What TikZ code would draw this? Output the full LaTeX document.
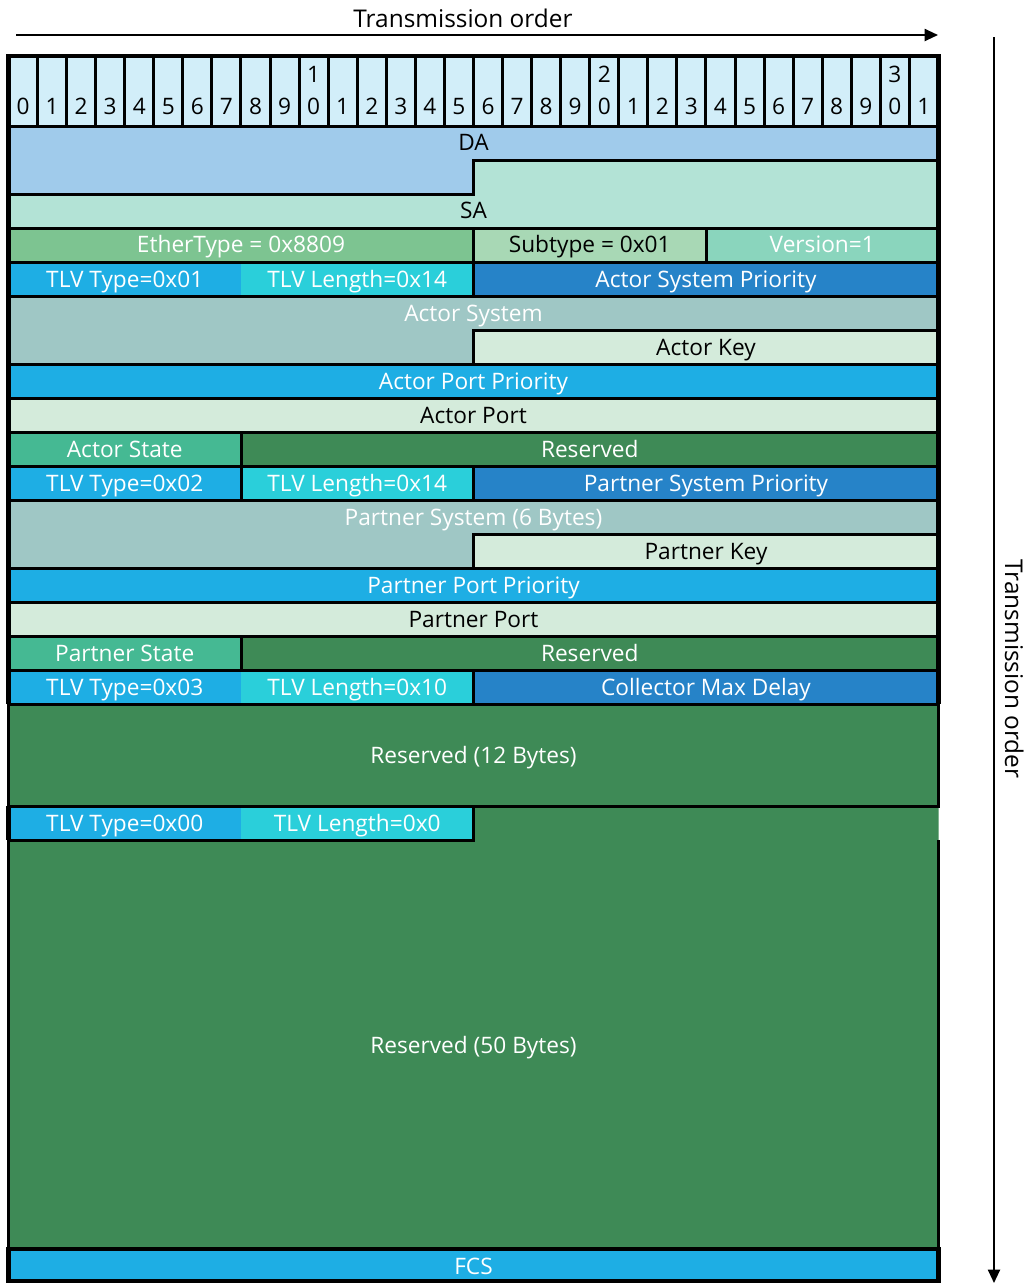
\documentclass[tikz,border=0pt]{standalone}
\usepackage{fontspec}
\setmainfont{Open Sans}
\usetikzlibrary{arrows.meta}
\definecolor{hdr}{HTML}{D2EEF9}
\definecolor{dacol}{HTML}{A0CBEB}
\definecolor{sacol}{HTML}{B3E3D6}
\definecolor{eth}{HTML}{7DC491}
\definecolor{subcol}{HTML}{A8D8B5}
\definecolor{ver}{HTML}{8AD5BD}
\definecolor{tlvt}{HTML}{1EAEE4}
\definecolor{tlvl}{HTML}{2ACFDA}
\definecolor{sysp}{HTML}{2683C8}
\definecolor{syscol}{HTML}{9FC7C5}
\definecolor{keycol}{HTML}{D4EBDB}
\definecolor{statecol}{HTML}{45B993}
\definecolor{resv}{HTML}{3E8A56}
\begin{document}
\begin{tikzpicture}[x=0.75pt,y=-0.75pt,line join=miter,
  fb/.style={draw=black,line width=2.25pt},
  thickb/.style={draw=black,line width=3.4pt},
  thinb/.style={draw=black,line width=1.8pt},
  lab/.style={font=\fontsize{17}{20}\selectfont,inner sep=0pt,anchor=base,yshift=-6pt},
  wl/.style={lab,text=white},
  bl/.style={lab,text=black},
  ttl/.style={font=\fontsize{18.3}{22}\selectfont,inner sep=0pt,anchor=base,text=black},
  arr/.style={line width=1.5pt,-{Triangle[length=10pt,width=9pt]}}]
\useasboundingbox (0,0) rectangle (1029,1283);

% ---- header bit cells
\foreach \i in {0,...,31}{
  \filldraw[fill=hdr,fb] ({8.5+29.06*\i},56) rectangle ({8.5+29.06*(\i+1)},126);
  \pgfmathtruncatemacro{\u}{mod(\i,10)}
  \node[bl] (bit\i) at ({8.5+29.06*(\i+0.5)},106) {\u};
}
\node[bl] (ten1) at ({8.5+29.06*10.5},74) {1};
\node[bl] (ten2) at ({8.5+29.06*20.5},74) {2};
\node[bl] (ten3) at ({8.5+29.06*30.5},74) {3};

% ---- DA / SA
\filldraw[fill=dacol,fb] (8.5,126) -- (938.5,126) -- (938.5,160) -- (473.5,160) -- (473.5,194) -- (8.5,194) -- cycle;
\filldraw[fill=sacol,fb] (473.5,160) -- (938.5,160) -- (938.5,228) -- (8.5,228) -- (8.5,194) -- (473.5,194) -- cycle;
\node[bl] (da) at (473.5,142) {DA};
\node[bl] (sa) at (473.5,210) {SA};

% ---- EtherType row
\filldraw[fill=eth,fb] (8.5,228) rectangle (473.5,262);
\filldraw[fill=subcol,fb] (473.5,228) rectangle (706,262);
\filldraw[fill=ver,fb] (706,228) rectangle (938.5,262);
\node[wl] (eth) at (241,244) {EtherType = 0x8809};
\node[bl] (sub) at (589.75,244) {Subtype = 0x01};
\node[wl] (ver) at (822.25,244) {Version=1};

% ---- TLV 1
\fill[tlvt] (8.5,262) rectangle (241,296);
\fill[tlvl] (241,262) rectangle (473.5,296);
\draw[fb] (8.5,262) rectangle (473.5,296);
\filldraw[fill=sysp,fb] (473.5,262) rectangle (938.5,296);
\node[wl] (t1) at (124.75,279) {TLV Type=0x01};
\node[wl] (l1) at (357.25,279) {TLV Length=0x14};
\node[wl] (asp) at (706,279) {Actor System Priority};

% ---- Actor System / Key
\filldraw[fill=syscol,fb] (8.5,296) -- (938.5,296) -- (938.5,330) -- (473.5,330) -- (473.5,364) -- (8.5,364) -- cycle;
\filldraw[fill=keycol,fb] (473.5,330) rectangle (938.5,364);
\node[wl] (as) at (473.5,313) {Actor System};
\node[bl] (ak) at (706,347) {Actor Key};

% ---- Actor Port Priority / Port
\filldraw[fill=tlvt,fb] (8.5,364) rectangle (938.5,398);
\filldraw[fill=keycol,fb] (8.5,398) rectangle (938.5,432);
\node[wl] (app) at (473.5,381) {Actor Port Priority};
\node[bl] (ap) at (473.5,415) {Actor Port};

% ---- Actor State / Reserved
\filldraw[fill=statecol,fb] (8.5,432) rectangle (241,466);
\filldraw[fill=resv,fb] (241,432) rectangle (938.5,466);
\node[wl] (ast) at (124.75,449) {Actor State};
\node[wl] (r1) at (589.75,449) {Reserved};

% ---- TLV 2
\filldraw[fill=tlvt,fb] (8.5,466) rectangle (241,500);
\filldraw[fill=tlvl,fb] (241,466) rectangle (473.5,500);
\filldraw[fill=sysp,fb] (473.5,466) rectangle (938.5,500);
\node[wl] (t2) at (124.75,483) {TLV Type=0x02};
\node[wl] (l2) at (357.25,483) {TLV Length=0x14};
\node[wl] (psp) at (706,483) {Partner System Priority};

% ---- Partner System / Key
\filldraw[fill=syscol,fb] (8.5,500) -- (938.5,500) -- (938.5,534) -- (473.5,534) -- (473.5,568) -- (8.5,568) -- cycle;
\filldraw[fill=keycol,fb] (473.5,534) rectangle (938.5,568);
\node[wl] (ps) at (473.5,517) {Partner System (6 Bytes)};
\node[bl] (pk) at (706,551) {Partner Key};

% ---- Partner Port Priority / Port
\filldraw[fill=tlvt,fb] (8.5,568) rectangle (938.5,602);
\filldraw[fill=keycol,fb] (8.5,602) rectangle (938.5,636);
\node[wl] (ppp) at (473.5,585) {Partner Port Priority};
\node[bl] (pp) at (473.5,619) {Partner Port};

% ---- Partner State / Reserved
\filldraw[fill=statecol,fb] (8.5,636) rectangle (241,670);
\filldraw[fill=resv,fb] (241,636) rectangle (938.5,670);
\node[wl] (pst) at (124.75,653) {Partner State};
\node[wl] (r2) at (589.75,653) {Reserved};

% ---- TLV 3
\fill[tlvt] (8.5,670) rectangle (241,704);
\fill[tlvl] (241,670) rectangle (473.5,704);
\draw[fb] (8.5,670) rectangle (473.5,704);
\filldraw[fill=sysp,fb] (473.5,670) rectangle (938.5,704);
\node[wl] (t3) at (124.75,687) {TLV Type=0x03};
\node[wl] (l3) at (357.25,687) {TLV Length=0x10};
\node[wl] (cmd) at (706,687) {Collector Max Delay};

% ---- outer frame (upper part)
\draw[thickb] (8.5,704) -- (8.5,56) -- (938.5,56) -- (938.5,704);

% ---- Reserved 50 fill (behind)
\fill[resv] (473.5,806) -- (938.5,806) -- (938.5,1248) -- (8.5,1248) -- (8.5,840) -- (473.5,840) -- cycle;
\draw[thinb] (8.5,840) -- (8.5,1248);
\draw[thinb] (938.5,840) -- (938.5,1248);

% ---- Reserved 12
\filldraw[fill=resv,fb] (8.5,704) rectangle (938.5,806);
\node[wl] (r12) at (473.5,755) {Reserved (12 Bytes)};

% ---- TLV 0
\fill[tlvt] (8.5,806) rectangle (241,840);
\fill[tlvl] (241,806) rectangle (473.5,840);
\draw[fb] (8.5,806) rectangle (473.5,840);
\draw[thickb] (8.5,806) -- (8.5,840);
\node[wl] (t0) at (124.75,823) {TLV Type=0x00};
\node[wl] (l0) at (357.25,823) {TLV Length=0x0};

\node[wl] (r50) at (473.5,1045) {Reserved (50 Bytes)};

% ---- FCS
\filldraw[fill=tlvt,thickb] (8.5,1249) rectangle (938.5,1281);
\node[wl] (fcs) at (473.5,1266) {FCS};

% ---- transmission order arrows
\coordinate (hs) at (16,35);
\coordinate (he) at (938,35);
\draw[arr] (hs) -- (he);
\node[ttl] (htext) at (463,27) {Transmission order};
\coordinate (vs) at (994,37);
\coordinate (ve) at (994,1283);
\draw[arr] (vs) -- (ve);
\node[ttl,rotate=-90] (vtext) at (1005,669) {Transmission order};
\end{tikzpicture}
\end{document}
